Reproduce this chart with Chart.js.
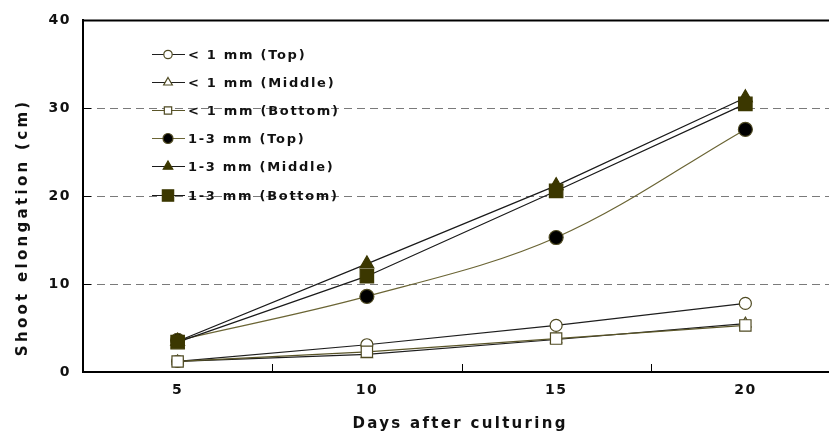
<!DOCTYPE html>
<html>
<head>
<meta charset="utf-8">
<script src="https://cdn.jsdelivr.net/npm/chart.js@4/dist/chart.umd.min.js"></script>
<style>
  html, body { margin: 0; padding: 0; background: #fff; overflow: hidden; }
  #wrap { width: 840px; height: 434px; }
</style>
</head>
<body>
<div id="wrap"><canvas id="chart" width="840" height="434"></canvas></div>
<script>
const days = ['5', '10', '15', '20'];

const seriesNames = [
  '< 1 mm (Top)',
  '< 1 mm (Middle)',
  '< 1 mm (Bottom)',
  '1-3 mm (Top)',
  '1-3 mm (Middle)',
  '1-3 mm (Bottom)'
];

const smallTop = [1.2, 3.1, 5.3, 7.8];
const smallMiddle = [1.2, 2.0, 3.7, 5.5];
const smallBottom = [1.2, 2.3, 3.8, 5.3];
const largeTop = [3.6, 8.6, 15.3, 27.6];
const largeMiddle = [3.5, 12.3, 21.2, 31.2];
const largeBottom = [3.4, 10.9, 20.6, 30.5];

const yTicks = [0, 10, 20, 30, 40];

const xTitle = 'Days after culturing';
const yTitle = 'Shoot elongation (cm)';

const OLIVE = '#3b3700';
const OLIVE_EDGE = '#4f4a22';
const FONT = "'DejaVu Sans', Verdana, sans-serif";
const SPACING = '1.5px';

function series(i, data, style) {
  return Object.assign({
    label: seriesNames[i],
    data: data,
    borderWidth: 1.2,
    pointBorderWidth: 1.2,
    tension: 0,
    order: 6 - i
  }, style);
}

const datasets = [
  series(0, smallTop, {
    borderColor: '#1e1e1e', pointStyle: 'circle', pointRadius: 6,
    pointBackgroundColor: '#fff', pointBorderColor: OLIVE_EDGE, legendRadius: 4.2
  }),
  series(1, smallMiddle, {
    borderColor: '#1e1e1e', pointStyle: 'triangle', pointRadius: 6.5,
    pointBackgroundColor: '#fff', pointBorderColor: OLIVE_EDGE, legendRadius: 5
  }),
  series(2, smallBottom, {
    borderColor: '#5a5528', pointStyle: 'rect', pointRadius: 8,
    pointBackgroundColor: '#fff', pointBorderColor: OLIVE_EDGE, legendRadius: 5.2
  }),
  series(3, largeTop, {
    borderColor: '#6b6535', pointStyle: 'circle', pointRadius: 7,
    pointBackgroundColor: '#000', pointBorderColor: OLIVE_EDGE, tension: 0.35, legendRadius: 5
  }),
  series(4, largeMiddle, {
    borderColor: '#1a1a1a', pointStyle: 'triangle', pointRadius: 8,
    pointBackgroundColor: OLIVE, pointBorderColor: OLIVE, legendRadius: 5.5
  }),
  series(5, largeBottom, {
    borderColor: '#1a1a1a', pointStyle: 'rect', pointRadius: 9.5,
    pointBackgroundColor: OLIVE, pointBorderColor: OLIVE, legendRadius: 8
  })
];

// wide bold lettering like the original workbook font
const spacingPlugin = {
  id: 'spacing',
  beforeLayout(chart) { chart.ctx.letterSpacing = SPACING; },
  beforeDraw(chart) { chart.ctx.letterSpacing = SPACING; }
};

function spacedText(ctx, text, cx, cy, spacing) {
  ctx.letterSpacing = spacing + 'px';
  const w = ctx.measureText(text).width - spacing;
  ctx.fillText(text, cx - w / 2, cy);
}

// inward tick marks, top frame line, axis titles and the in-plot legend
const framePlugin = {
  id: 'frame',
  beforeDatasetsDraw(chart) {
    const {ctx, chartArea, scales: {x, y}} = chart;
    ctx.save();
    ctx.strokeStyle = '#000';
    ctx.lineWidth = 1;
    ctx.setLineDash([]);
    ctx.beginPath();
    for (let i = 0; i < days.length - 1; i++) {
      const px = Math.round((x.getPixelForTick(i) + x.getPixelForTick(i + 1)) / 2) + 0.5;
      ctx.moveTo(px, chartArea.bottom);
      ctx.lineTo(px, chartArea.bottom - 8);
    }
    yTicks.slice(1, -1).forEach(v => {
      const py = Math.round(y.getPixelForValue(v)) + 0.5;
      ctx.moveTo(chartArea.left, py);
      ctx.lineTo(chartArea.left + 8, py);
    });
    ctx.stroke();
    ctx.lineWidth = 2;
    ctx.beginPath();
    ctx.moveTo(chartArea.left - 1, chartArea.top);
    ctx.lineTo(chartArea.right, chartArea.top);
    ctx.stroke();

    // axis titles
    ctx.fillStyle = '#111';
    ctx.font = 'bold 15px ' + FONT;
    ctx.textAlign = 'left';
    ctx.textBaseline = 'middle';
    spacedText(ctx, xTitle, 459, 424, 2.3);
    ctx.translate(23, 229);
    ctx.rotate(-Math.PI / 2);
    spacedText(ctx, yTitle, 0, 0, 3.3);
    ctx.restore();
  },
  afterDraw(chart) {
    const ctx = chart.ctx;
    const x0 = 152, x1 = 185, xm = 168, tx = 188, top = 54, step = 28.1;
    ctx.save();
    ctx.font = 'bold 13px ' + FONT;
    ctx.letterSpacing = '1.7px';
    ctx.textBaseline = 'middle';
    ctx.textAlign = 'left';
    chart.data.datasets.forEach((ds, i) => {
      const cy = Math.round(top + i * step) + 0.5;
      ctx.strokeStyle = ds.borderColor;
      ctx.lineWidth = 1.2;
      ctx.beginPath();
      ctx.moveTo(x0, cy);
      ctx.lineTo(x1, cy);
      ctx.stroke();
      ctx.fillStyle = ds.pointBackgroundColor;
      ctx.strokeStyle = ds.pointBorderColor;
      Chart.helpers.drawPoint(ctx, {
        pointStyle: ds.pointStyle,
        radius: ds.legendRadius,
        rotation: 0,
        borderWidth: 1.2
      }, xm, cy);
      ctx.fillStyle = '#111';
      ctx.fillText(ds.label, tx, cy + 1);
    });
    ctx.restore();
  }
};

new Chart(document.getElementById('chart'), {
  type: 'line',
  data: { labels: days, datasets: datasets },
  options: {
    responsive: false,
    devicePixelRatio: 1,
    animation: false,
    layout: { autoPadding: false, padding: { top: 17, left: 0, right: 0, bottom: 0 } },
    plugins: {
      legend: { display: false },
      tooltip: { enabled: false }
    },
    scales: {
      x: {
        type: 'category',
        offset: true,
        afterFit(scale) {
          scale.height = 62;
          scale.paddingLeft = 0;
          scale.paddingRight = 0;
        },
        grid: { display: true, offset: true, drawOnChartArea: false, drawTicks: false, color: 'rgba(0,0,0,0)' },
        border: { display: true, color: '#000', width: 2 },
        ticks: { color: '#111', padding: 10, font: { family: FONT, size: 14, weight: 'bold' } },
        title: { display: false }
      },
      y: {
        min: 0,
        max: 40,
        afterFit(scale) { scale.width = 83; },
        afterBuildTicks(scale) { scale.ticks = yTicks.map(v => ({ value: v })); },
        grid: {
          drawTicks: false,
          lineWidth: 1,
          color: c => (c.tick && c.tick.value > 0 && c.tick.value < 40) ? '#7a7a7a' : 'rgba(0,0,0,0)'
        },
        border: { display: true, color: '#000', width: 2, dash: [8, 5] },
        ticks: { color: '#111', padding: 12, font: { family: FONT, size: 14, weight: 'bold' } },
        title: { display: false }
      }
    }
  },
  plugins: [spacingPlugin, framePlugin]
});
</script>
</body>
</html>
